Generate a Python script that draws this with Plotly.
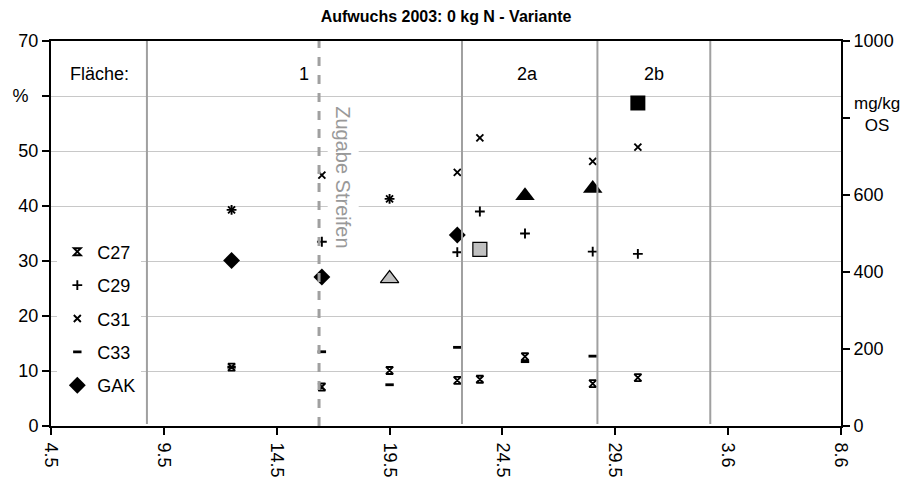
import plotly.graph_objects as go

# Sampling dates (growth 2003)
dates = ["2003-05-12", "2003-05-16", "2003-05-19", "2003-05-22",
         "2003-05-23", "2003-05-25", "2003-05-28", "2003-05-30"]

# Alkane shares in % (left axis)
c27 = [10.7, 7.1, 10.1, 8.3, 8.5, 12.6, 7.7, 8.8]
c29 = [39.3, 33.5, 41.3, 31.6, 39.0, 35.0, 31.7, 31.3]
c31 = [39.3, 45.6, 41.3, 46.1, 52.4, None, 48.1, 50.7]
c33 = [10.7, 13.5, 7.5, 14.3, None, 11.7, 12.7, None]

# Total alkane content in mg/kg OS (right axis)
gak_dates = ["2003-05-12", "2003-05-16", "2003-05-22"]
gak = [430, 387, 496]
gak_grey_tri_dates = ["2003-05-19"]
gak_grey_tri = [383]
gak_grey_sq_dates = ["2003-05-23"]
gak_grey_sq = [459]
gak_black_tri_dates = ["2003-05-25", "2003-05-28"]
gak_black_tri = [598, 617]
gak_black_sq_dates = ["2003-05-30"]
gak_black_sq = [839]

# Plot boundaries between areas and the strip application date
area_bounds = ["2003-05-08 06:00", "2003-05-22 05:00", "2003-05-28 05:00", "2003-06-02 05:00"]
strip_date = "2003-05-15 21:00"

left_ticks = [0, 10, 20, 30, 40, 50, 60, 70]
left_ticktext = ["0", "10", "20", "30", "40", "50", "%\u00a0\u00a0", "70"]
right_ticks = [0, 200, 400, 600, 800, 1000]
right_ticktext = ["0", "200", "400", "600", "", "1000"]

FONT = "Liberation Sans, Arial, sans-serif"

fig = go.Figure()

def small(name, y, symbol, size, width):
    fig.add_trace(go.Scatter(
        x=dates, y=y, mode="markers", name=name, legendgroup=name,
        marker=dict(symbol=symbol, size=size, color="black",
                    line=dict(color="black", width=width)),
        cliponaxis=False))

small("C27", c27, "hourglass-open", 7, 1.9)
small("C29", c29, "cross-thin-open", 7, 1.9)
small("C31", c31, "x-thin-open", 7, 1.9)
small("C33", c33, "line-ew-open", 6, 2.8)

fig.add_trace(go.Scatter(
    x=gak_dates, y=gak, mode="markers", name="GAK", legendgroup="GAK", yaxis="y2",
    marker=dict(symbol="diamond", size=13, color="black", line=dict(width=0))))
fig.add_trace(go.Scatter(
    x=gak_grey_tri_dates, y=gak_grey_tri, mode="markers", showlegend=False, yaxis="y2",
    marker=dict(symbol="triangle-up", size=16, color="#c0c0c0",
                line=dict(color="black", width=1.2))))
fig.add_trace(go.Scatter(
    x=gak_grey_sq_dates, y=gak_grey_sq, mode="markers", showlegend=False, yaxis="y2",
    marker=dict(symbol="square", size=14, color="#c0c0c0",
                line=dict(color="black", width=1.2))))
fig.add_trace(go.Scatter(
    x=gak_black_tri_dates, y=gak_black_tri, mode="markers", showlegend=False, yaxis="y2",
    marker=dict(symbol="triangle-up", size=17, color="black", line=dict(width=0))))
fig.add_trace(go.Scatter(
    x=gak_black_sq_dates, y=gak_black_sq, mode="markers", showlegend=False, yaxis="y2",
    marker=dict(symbol="square", size=15, color="black", line=dict(width=0))))

shapes = []
for d in area_bounds:
    shapes.append(dict(type="line", xref="x", yref="paper", x0=d, x1=d, y0=0.005, y1=1,
                       line=dict(color="#a0a0a0", width=2), layer="above"))
shapes.append(dict(type="line", xref="x", yref="paper", x0=strip_date, x1=strip_date,
                   y0=0, y1=1, line=dict(color="#a0a0a0", width=3, dash="dash"),
                   layer="above"))

annotations = [
    dict(text="Fläche:", xref="paper", yref="paper", x=0.021, y=0.915,
         xanchor="left", yanchor="middle", showarrow=False,
         font=dict(family=FONT, size=18, color="black")),
    dict(text="1", xref="x", yref="paper", x="2003-05-15 12:00", y=0.915,
         xanchor="right", yanchor="middle", showarrow=False,
         font=dict(family=FONT, size=18, color="black")),
    dict(text="2a", xref="x", yref="paper", x="2003-05-25 03:00", y=0.915,
         xanchor="center", yanchor="middle", showarrow=False,
         font=dict(family=FONT, size=18, color="black")),
    dict(text="2b", xref="x", yref="paper", x="2003-05-30 17:00", y=0.915,
         xanchor="center", yanchor="middle", showarrow=False,
         font=dict(family=FONT, size=18, color="black")),
    dict(text="Zugabe Streifen", xref="x", yref="paper", x="2003-05-16 23:00", y=0.645,
         xanchor="center", yanchor="middle", textangle=90, showarrow=False,
         bgcolor="white", borderpad=4,
         font=dict(family=FONT, size=20, color="#999999")),
    dict(text="mg/kg<br>OS", xref="paper", yref="paper", x=1.045, y=0.808,
         xanchor="center", yanchor="middle", showarrow=False, align="center",
         font=dict(family=FONT, size=17, color="black")),
]

fig.update_layout(
    width=906, height=482,
    margin=dict(l=51, r=65, t=41, b=56),
    paper_bgcolor="white", plot_bgcolor="white",
    font=dict(family=FONT, size=18, color="black"),
    title=dict(text="<b>Aufwuchs 2003: 0 kg N - Variante</b>", x=0.5, xref="paper",
               xanchor="center", y=0.965, yanchor="middle",
               font=dict(family=FONT, size=16, color="black")),
    xaxis=dict(type="date", range=["2003-05-04", "2003-06-08"],
               tick0="2003-05-04", dtick=5 * 86400000, tickformat="%-d.%-m",
               tickangle=90, ticks="outside", ticklen=7, tickwidth=1.5,
               tickcolor="black", showline=True, linecolor="black", linewidth=2,
               mirror=True, showgrid=False, zeroline=False,
               ticklabelstandoff=4, automargin=False,
               tickfont=dict(family=FONT, size=18)),
    yaxis=dict(range=[0, 70], tickvals=left_ticks, ticktext=left_ticktext,
               ticks="outside", ticklen=7, tickwidth=1.5, tickcolor="black",
               showline=True, linecolor="black", linewidth=2,
               showgrid=True, gridcolor="#c8c8c8", gridwidth=1, zeroline=False,
               automargin=False, tickfont=dict(family=FONT, size=18)),
    yaxis2=dict(range=[0, 1000], tickvals=right_ticks, ticktext=right_ticktext,
                overlaying="y", side="right", ticks="outside", ticklen=7,
                tickwidth=1.5, tickcolor="black", showline=True, linecolor="black",
                linewidth=2, showgrid=False, zeroline=False, automargin=False,
                tickfont=dict(family=FONT, size=18)),
    legend=dict(x=0.008, y=0.50, xanchor="left", yanchor="top",
                bgcolor="white", borderwidth=0, traceorder="grouped",
                tracegroupgap=7, itemwidth=30,
                font=dict(family=FONT, size=18, color="black")),
    shapes=shapes,
    annotations=annotations,
)

fig.write_html("out.html")
